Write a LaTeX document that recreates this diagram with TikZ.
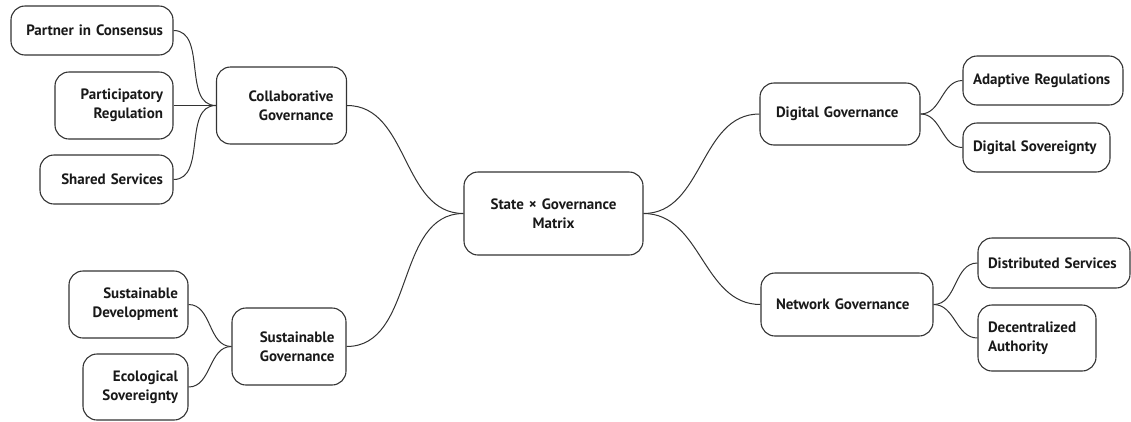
\documentclass[tikz,border=0pt]{standalone}
\usepackage{fontspec}
\setmainfont{PT Sans}
\begin{document}
\begin{tikzpicture}[x=1pt,y=-1pt,
    idea/.style={draw=black!80, line width=1.1pt, rounded corners=14pt, fill=white,
        inner xsep=10pt, inner ysep=0pt, font=\fontsize{15}{19}\selectfont\bfseries, text=black!90},
    link/.style={draw=black!80, line width=1pt}]
    \useasboundingbox (0,0) rectangle (1131,421);

    % centre
    \node[idea, align=center, text width=159pt, minimum height=83pt] (matrix) at (553.5,213.5) {State × Governance\\Matrix};

    % left branches
    \node[idea, align=right, text width=104pt, minimum height=77pt, inner xsep=13pt] (collab) at (281.5,105.5) {Collaborative\\Governance};
    \node[idea, align=right, text width=142pt, minimum height=49pt] (partner) at (92,30.5) {Partner in Consensus};
    \node[idea, align=right, text width=98pt, minimum height=67pt] (particip) at (114,105.5) {Participatory\\Regulation};
    \node[idea, align=right, text width=113pt, minimum height=49pt] (shared) at (106.5,179.5) {Shared Services};

    \node[idea, align=right, text width=91pt, minimum height=77pt, inner xsep=11.5pt] (sustgov) at (289,346.5) {Sustainable\\Governance};
    \node[idea, align=right, text width=99pt, minimum height=67pt] (sustdev) at (128.5,304.5) {Sustainable\\Development};
    \node[idea, align=right, text width=85pt, minimum height=66pt] (ecolog) at (135.5,387) {Ecological\\Sovereignty};

    % right branches
    \node[idea, align=left, text width=128pt, minimum height=62pt, inner xsep=16pt] (digital) at (840,114) {Digital Governance};
    \node[idea, align=left, text width=140pt, minimum height=49pt] (adaptive) at (1043,80.5) {Adaptive Regulations};
    \node[idea, align=left, text width=127pt, minimum height=49pt] (digsov) at (1036.5,147.5) {Digital Sovereignty};

    \node[idea, align=left, text width=142pt, minimum height=63pt, inner xsep=15pt] (network) at (847,304.5) {Network Governance};
    \node[idea, align=left, text width=132pt, minimum height=50pt] (distrib) at (1054,263) {Distributed Services};
    \node[idea, align=left, text width=98pt, minimum height=66pt] (decent) at (1037,338) {Decentralized\\Authority};

    % connectors
    \draw[link] (matrix.west) to[out=180,in=0] (collab.east);
    \draw[link] (matrix.west) to[out=180,in=0] (sustgov.east);
    \draw[link] (matrix.east) to[out=0,in=180] (digital.west);
    \draw[link] (matrix.east) to[out=0,in=180] (network.west);

    \foreach \leaf in {partner,particip,shared}
        \draw[link] (collab.west) to[out=180,in=0] (\leaf.east);
    \foreach \leaf in {sustdev,ecolog}
        \draw[link] (sustgov.west) to[out=180,in=0] (\leaf.east);
    \foreach \leaf in {adaptive,digsov}
        \draw[link] (digital.east) to[out=0,in=180] (\leaf.west);
    \foreach \leaf in {distrib,decent}
        \draw[link] (network.east) to[out=0,in=180] (\leaf.west);
\end{tikzpicture}
\end{document}
